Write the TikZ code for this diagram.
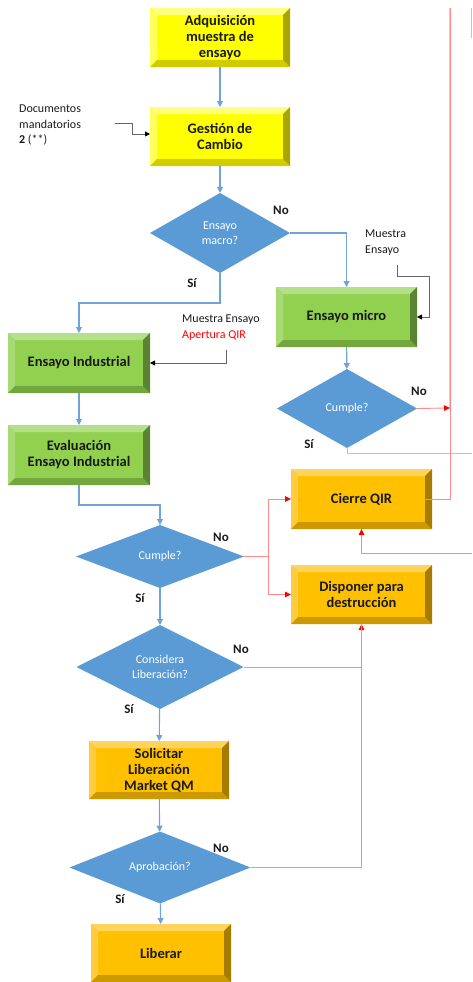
\documentclass[tikz,border=0pt]{standalone}
\usepackage{fontspec}
\setmainfont{Carlito}
\usetikzlibrary{shapes.geometric,arrows.meta}
\definecolor{yface}{HTML}{FFFF00}
\definecolor{ytop}{HTML}{FFFF80}
\definecolor{yleft}{HTML}{FFFF60}
\definecolor{ybot}{HTML}{D0CC00}
\definecolor{yright}{HTML}{A8A400}
\definecolor{gface}{HTML}{92D050}
\definecolor{gtop}{HTML}{B4E08C}
\definecolor{gleft}{HTML}{A6DA74}
\definecolor{gbot}{HTML}{74A63E}
\definecolor{gright}{HTML}{5A8432}
\definecolor{oface}{HTML}{FFC000}
\definecolor{otop}{HTML}{FFD45C}
\definecolor{oleft}{HTML}{FFCC40}
\definecolor{obot}{HTML}{CC9A00}
\definecolor{oright}{HTML}{A67C00}
\definecolor{diab}{HTML}{5B9BD5}
\definecolor{arrb}{HTML}{6FA3DA}
\definecolor{lineb}{HTML}{A9C5E8}
\definecolor{redl}{HTML}{FF8A8A}
\definecolor{pinkl}{HTML}{FFBDBD}
\definecolor{txt}{HTML}{1A1A1A}
\tikzset{
  bevbox/.style n args={5}{rectangle, minimum width=140pt, minimum height=60pt,
    inner sep=0pt, outer sep=0pt, fill=#1, align=center,
    font=\fontsize{14.5}{16}\selectfont\bfseries, text=txt,
    path picture={
      \fill[#2] (path picture bounding box.north west) -- (path picture bounding box.north east)
        -- ([shift={(-7pt,-7pt)}]path picture bounding box.north east)
        -- ([shift={(7pt,-7pt)}]path picture bounding box.north west) -- cycle;
      \fill[#3] (path picture bounding box.north west) -- (path picture bounding box.south west)
        -- ([shift={(7pt,7pt)}]path picture bounding box.south west)
        -- ([shift={(7pt,-7pt)}]path picture bounding box.north west) -- cycle;
      \fill[#4] (path picture bounding box.south west) -- (path picture bounding box.south east)
        -- ([shift={(-7pt,7pt)}]path picture bounding box.south east)
        -- ([shift={(7pt,7pt)}]path picture bounding box.south west) -- cycle;
      \fill[#5] (path picture bounding box.north east) -- (path picture bounding box.south east)
        -- ([shift={(-7pt,7pt)}]path picture bounding box.south east)
        -- ([shift={(-7pt,-7pt)}]path picture bounding box.north east) -- cycle;
    }},
  ybox/.style={bevbox={yface}{ytop}{yleft}{ybot}{yright}},
  gbox/.style={bevbox={gface}{gtop}{gleft}{gbot}{gright}},
  obox/.style={bevbox={oface}{otop}{oleft}{obot}{oright}},
  dia/.style={diamond, fill=diab, draw=none, inner sep=0pt, outer sep=0pt, text=white,
    font=\fontsize{12}{15}\selectfont, align=center},
  barrow/.style={draw=arrb, line width=1.1pt, -{Triangle[length=6pt,width=6pt]}},
  rarrow/.style={draw=redl, line width=0.9pt, -{Triangle[length=6pt,width=5.5pt,color=red]}},
  rline/.style={draw=redl, line width=0.9pt},
  karrow/.style={draw=black!60, line width=0.8pt, -{Triangle[length=5pt,width=5pt,color=black]}},
  lbl/.style={font=\fontsize{13}{15}\selectfont\bfseries, text=txt},
  note/.style={font=\fontsize{12}{15.5}\selectfont, text=txt, align=left, anchor=north west, inner sep=0pt},
}
\begin{document}
\begin{tikzpicture}[x=1pt,y=-1pt]
\useasboundingbox (0,0) rectangle (472,982);
% background fragments
\draw[pinkl, line width=2.5pt] (450,408) -- (450,8);
\draw[lineb, line width=0.8pt] (471,8) -- (471,38);

% boxes
\node[ybox, minimum height=59pt] (n1) at (220,37.5) {Adquisición\\muestra de\\ensayo};
\node[ybox, minimum height=59pt] (n2) at (220,136.5) {Gestión de\\Cambio};
\node[dia, minimum width=140pt, minimum height=80pt] (d1) at (220,233) {Ensayo\\macro?};
\node[gbox, minimum width=141pt] (n3) at (346.5,317) {Ensayo micro};
\node[gbox, minimum width=142pt] (n4) at (79,363) {Ensayo Industrial};
\node[gbox, minimum width=142pt] (n5) at (79,455) {Evaluación\\Ensayo Industrial};
\node[dia, minimum width=140pt, minimum height=79pt] (d2) at (347,408.5) {Cumple?};
\node[dia, minimum width=168pt, minimum height=63pt] (d3) at (160,556.5) {Cumple?};
\node[obox, minimum width=141pt] (n6) at (361.5,499) {Cierre QIR};
\node[obox, minimum width=141pt, minimum height=59pt] (n7) at (361.5,594.5) {Disponer para\\destrucción};
\node[dia, minimum width=167pt, minimum height=84pt] (d4) at (160,667) {Considera\\Liberación?};
\node[obox, minimum height=58pt] (n8) at (159,770) {Solicitar\\Liberación\\Market QM};
\node[dia, minimum width=181pt, minimum height=61pt] (d5) at (160,867.5) {Aprobación?};
\node[obox, minimum height=58pt] (n9) at (161,953) {Liberar};

% notes
\node[note] (doc) at (19,105) {Documentos\\mandatorios\\\textbf{2} (**)};
\node[note] (me1) at (365,230) {Muestra\\Ensayo};
\node[note] (me2) at (182,315) {Muestra Ensayo\\\textcolor{red}{Apertura QIR}};
\coordinate (c1) at (115,123);
\coordinate (c2) at (397,265);
\coordinate (c3) at (226,350);
\coordinate (rv) at (450,408);
\coordinate (re) at (472,553);
\coordinate (be) at (472,453);
\coordinate (rtop) at (450,8);
\coordinate (sp) at (268,556.5);

% blue flow
\draw[barrow] (n1) -- (n2);
\draw[barrow] (n2) -- (d1);
\draw[barrow] (d1.east) -| (n3.north);
\draw[barrow] (d1.south) -- ++(0,30) -| (n4.north);
\draw[barrow] (n3) -- (d2);
\draw[barrow] (n4) -- (n5);
\draw[barrow] (n5.south) -- ++(0,20) -| (d3.north);
\draw[barrow] (d3) -- (d4);
\draw[barrow] (d4) -- (n8);
\draw[barrow] (n8) -- (d5);
\draw[barrow] (d5) -- (n9);
\draw[lineb, line width=0.8pt] (d2.south) -- ++(0,5) -| (be);

% black inputs
\draw[karrow] (c1) -- ++(17,0) -- ++(0,11) -- ([yshift=2.5pt]n2.west);
\draw[karrow] (c2) -- ++(0,11) -- ++(32,0) |- (n3.east);
\draw[karrow] (c3) |- (n4.east);

% red flow
\draw[rarrow] (d2.east) -- (rv);
\draw[rline] ([xshift=-8pt]n6.east) -- (450,499) -- (rtop);
\draw[rline] (d3.east) -- (sp);
\draw[rarrow] (sp) |- (n6.west);
\draw[rarrow] (sp) |- (n7.west);
\draw[rarrow] (re) -| (n6.south);
\draw[rarrow] (d4.east) -| (n7.south);
\draw[rline] (d5.east) -| (n7.south);

% labels
\node[lbl] (l1) at (281,210) {No};
\node[lbl] (l2) at (192,283) {Sí};
\node[lbl] (l3) at (419,391) {No};
\node[lbl] (l4) at (309,444) {Sí};
\node[lbl] (l5) at (221,537) {No};
\node[lbl] (l6) at (140,598) {Sí};
\node[lbl] (l7) at (241,649) {No};
\node[lbl] (l8) at (129,709) {Sí};
\node[lbl] (l9) at (221,848) {No};
\node[lbl] (l10) at (120,899) {Sí};
\end{tikzpicture}
\end{document}
